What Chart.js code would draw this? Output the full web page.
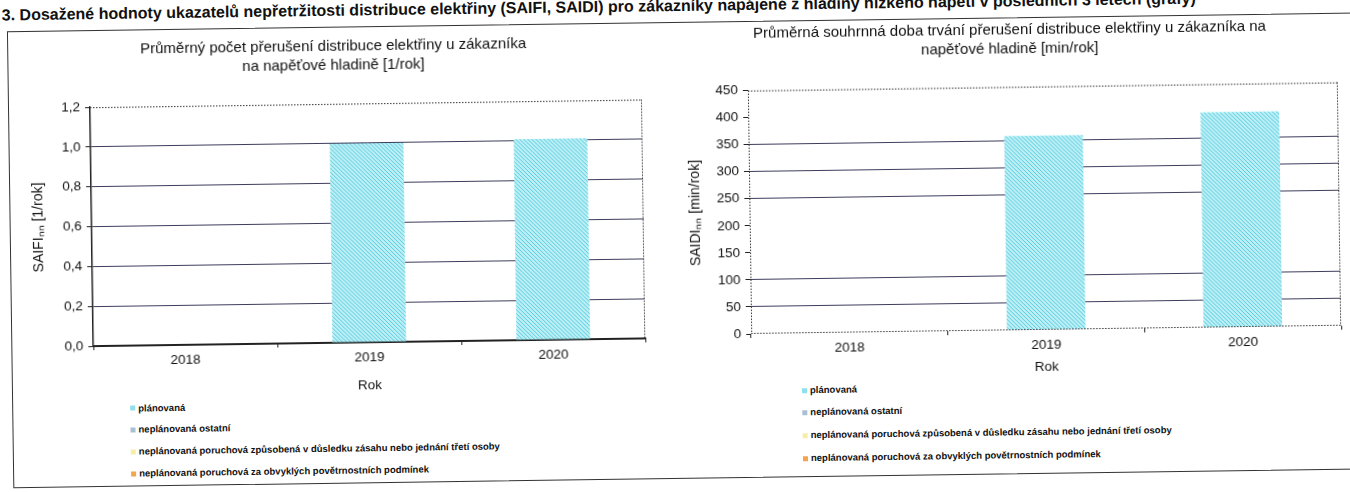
<!DOCTYPE html>
<html lang="cs">
<head>
<meta charset="utf-8">
<script src="https://cdn.jsdelivr.net/npm/chart.js@4"></script>
<style>
  html, body { margin: 0; padding: 0; background: #fff; overflow: hidden; }
  body { width: 1350px; height: 492px; font-family: "Liberation Sans", Arial, sans-serif; color: #111; }
  #page { position: absolute; left: 0; top: 0; width: 1350px; height: 492px; transform: rotate(-0.8deg); transform-origin: 675px 246px; }
  #heading { position: absolute; left: 5px; top: -3px; font-size: 16px; font-weight: bold; white-space: nowrap; }
  #frame { position: absolute; left: 10px; top: 22px; width: 1400px; height: 455px; border: 1px solid #333; }
  canvas { position: absolute; }
  #c1 { left: 0; top: 24px; }
  #c2 { left: 680px; top: 14px; }
  .legend { position: absolute; font-size: 9.5px; font-weight: bold; white-space: nowrap; }
  .legend div { height: 21.7px; line-height: 21.7px; }
  .legend span { display: inline-block; width: 5px; height: 5px; margin-right: 3px; vertical-align: middle; }
  #leg2 div { height: 22.7px; line-height: 22.7px; }
</style>
</head>
<body>
<div id="page">
  <div id="heading">3. Dosažené hodnoty ukazatelů nepřetržitosti distribuce elektřiny (SAIFI, SAIDI) pro zákazníky napájené z hladiny nízkého napětí v posledních 3 letech (grafy)</div>
  <div id="frame"></div>
  <canvas id="c1" width="650" height="366"></canvas>
  <canvas id="c2" width="708" height="367"></canvas>
  <div class="legend" id="leg1" style="left:128px; top:389.5px;"></div>
  <div class="legend" id="leg2" style="left:800px; top:380.6px;"></div>
</div>
<script>
const years = ['2018', '2019', '2020'];
const seriesNames = [
  'plánovaná',
  'neplánovaná ostatní',
  'neplánovaná poruchová způsobená v důsledku zásahu nebo jednání třetí osoby',
  'neplánovaná poruchová za obvyklých povětrnostních podmínek'
];
const seriesColors = ['#8fe0ec', '#a9bfd6', '#f6eea6', '#f2a54a'];

// SAIFI [1/rok]
const saifiPlanned = [null, 1.00, 1.01];
const saifiOther = [null, 0, 0];
const saifiThirdParty = [null, 0, 0];
const saifiWeather = [null, 0, 0];

// SAIDI [min/rok]
const saidiPlanned = [null, 359, 398];
const saidiOther = [null, 0, 0];
const saidiThirdParty = [null, 0, 0];
const saidiWeather = [null, 0, 0];

const gridColor = '#3c3c5c';
const axisColor = '#222';
const font = 'Liberation Sans, Arial';

function hatch() {
  const c = document.createElement('canvas');
  c.width = 4; c.height = 4;
  const g = c.getContext('2d');
  g.fillStyle = '#bdeff5';
  g.fillRect(0, 0, 4, 4);
  g.fillStyle = '#52cbde';
  for (let i = 0; i < 4; i++) g.fillRect(i, i, 1, 1);
  return g.createPattern(c, 'repeat');
}
const planFill = hatch();

// dotted frame around the plot (Excel style)
const dottedFrame = {
  id: 'dottedFrame',
  afterDraw(chart, args, opts) {
    const a = chart.chartArea, ctx = chart.ctx;
    ctx.save();
    ctx.strokeStyle = '#333';
    ctx.lineWidth = 1;
    ctx.setLineDash([1.5, 1.5]);
    ctx.beginPath();
    ctx.moveTo(a.left, a.top + 0.5); ctx.lineTo(a.right, a.top + 0.5);
    ctx.moveTo(a.right - 0.5, a.top); ctx.lineTo(a.right - 0.5, a.bottom);
    if (opts.all) {
      ctx.moveTo(a.left + 0.5, a.top); ctx.lineTo(a.left + 0.5, a.bottom);
      ctx.moveTo(a.left, a.bottom - 0.5); ctx.lineTo(a.right, a.bottom - 0.5);
    }
    ctx.stroke();
    ctx.restore();
  }
};

function datasets(values) {
  return values.map((v, i) => ({
    label: seriesNames[i],
    data: v,
    backgroundColor: i === 0 ? planFill : seriesColors[i],
    borderWidth: 0,
    barPercentage: 0.8,
    categoryPercentage: 0.5
  }));
}

function makeChart(id, cfg) {
  return new Chart(document.getElementById(id), {
    type: 'bar',
    data: { labels: years, datasets: datasets(cfg.values) },
    options: {
      responsive: false,
      animation: false,
      layout: { padding: cfg.padding },
      plugins: {
        legend: { display: false },
        tooltip: { enabled: false },
        title: {
          display: true,
          text: cfg.title,
          color: '#111',
          font: { family: font, size: 15, weight: 'normal', lineHeight: 1.27 },
          padding: cfg.titlePadding
        },
        dottedFrame: { all: cfg.allDotted }
      },
      scales: {
        x: {
          stacked: true,
          afterFit(s) { s.height = cfg.xHeight; },
          grid: { display: true, drawOnChartArea: false, offset: true, tickLength: 4, color: axisColor },
          border: { display: !cfg.allDotted, color: axisColor, width: 2 },
          ticks: { color: '#111', padding: 3, font: { family: font, size: 13.5 } },
          title: { display: true, text: 'Rok', color: '#111', padding: { top: 0, bottom: 1 },
                   font: { family: font, size: 13.5 } }
        },
        y: {
          stacked: true,
          min: 0,
          max: cfg.max,
          afterFit(s) { s.width = cfg.yWidth; },
          grid: {
            color: ctx => cfg.hideGrid.includes(ctx.tick.value) ? 'rgba(0,0,0,0)' : gridColor,
            tickColor: axisColor,
            tickLength: 5
          },
          border: { display: !cfg.allDotted, color: axisColor, width: 1.5 },
          ticks: {
            stepSize: cfg.step,
            color: '#111',
            padding: 5,
            font: { family: font, size: 13.5 },
            callback: cfg.format
          },
          title: { display: true, text: cfg.yTitle, color: '#111', padding: { top: 3, bottom: 4 },
                   font: { family: font, size: 14 } }
        }
      }
    },
    plugins: [dottedFrame]
  });
}

makeChart('c1', {
  values: [saifiPlanned, saifiOther, saifiThirdParty, saifiWeather],
  title: ['Průměrný počet přerušení distribuce elektřiny u zákazníka', 'na napěťové hladině [1/rok]'],
  titlePadding: { top: 8, bottom: 29 },
  padding: { left: 28, right: 6, top: 0, bottom: 0 },
  xHeight: 52,
  yWidth: 64,
  max: 1.2,
  step: 0.2,
  hideGrid: [0, 1.2],
  allDotted: false,
  yTitle: 'SAIFIₙₙ [1/rok]',
  format: v => v.toFixed(1).replace('.', ',')
});

makeChart('c2', {
  values: [saidiPlanned, saidiOther, saidiThirdParty, saidiWeather],
  title: ['Průměrná souhrnná doba trvání přerušení distribuce elektřiny u zákazníka na', 'napěťové hladině [min/rok]'],
  titlePadding: { top: 11, bottom: 28.5 },
  padding: { left: 5, right: 48, top: 0, bottom: 0 },
  xHeight: 46,
  yWidth: 65,
  max: 450,
  step: 50,
  hideGrid: [0, 150, 200, 400, 450],
  allDotted: true,
  yTitle: 'SAIDIₙₙ [min/rok]',
  format: v => v
});

function buildLegend(id) {
  const box = document.getElementById(id);
  seriesNames.forEach((name, i) => {
    const row = document.createElement('div');
    const mark = document.createElement('span');
    mark.style.background = seriesColors[i];
    row.appendChild(mark);
    row.appendChild(document.createTextNode(name));
    box.appendChild(row);
  });
}
buildLegend('leg1');
buildLegend('leg2');
</script>
</body>
</html>
